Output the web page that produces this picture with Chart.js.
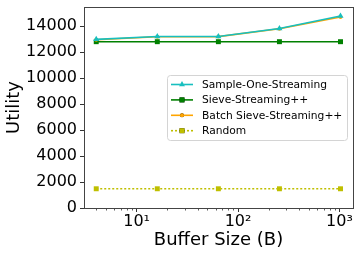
<!DOCTYPE html>
<html>
<head>
<meta charset="utf-8">
<script src="https://cdn.jsdelivr.net/npm/chart.js@4.4.0/dist/chart.umd.min.js"></script>
<style>
  html, body { margin: 0; padding: 0; background: #fff; }
  #wrap { width: 361px; height: 256px; }
</style>
</head>
<body>
<div id="wrap"><canvas id="chart" width="361" height="256"></canvas></div>
<script>
// Values
const bufferSizes = [4, 16, 64, 256, 1024];
const sampleOne = [12980, 13200, 13200, 13820, 14780];
const sieve = [12800, 12800, 12800, 12800, 12800];
const batchSieve = [12950, 13180, 13190, 13790, 14700];
const randomUtil = [1480, 1480, 1480, 1480, 1480];

const yTicks = [0, 2000, 4000, 6000, 8000, 10000, 12000, 14000];
const xMajor = [10, 100, 1000];
const xTicks = [4, 5, 6, 7, 8, 9, 10, 20, 30, 40, 50, 60, 70, 80, 90, 100,
                200, 300, 400, 500, 600, 700, 800, 900, 1000];
const supers = { 10: '10\u00B9', 100: '10\u00B2', 1000: '10\u00B3' };

const series = [
    { label: 'Sample-One-Streaming', data: sampleOne, color: '#17bfbf', marker: 'triangle', radius: 3.5, dash: [] },
    { label: 'Sieve-Streaming++', data: sieve, color: '#008000', marker: 'rect', radius: 3.5, dash: [] },
    { label: 'Batch Sieve-Streaming++', data: batchSieve, color: '#ffa500', marker: 'circle', radius: 2, dash: [] },
    { label: 'Random', data: randomUtil, color: '#bfbf00', marker: 'rect', radius: 3.5, dash: [2, 2] }
];
// lowest order is drawn last, so cyan sits on top of orange
const drawOrder = [0, 2, 1, 3];

const FONT = 'DejaVu Sans';

// frame, minor ticks and the in-plot legend
const extras = {
    id: 'extras',
    afterDraw(chart) {
        const ctx = chart.ctx;
        const a = chart.chartArea;
        const xs = chart.scales.x;
        ctx.save();
        // minor ticks on the log axis
        ctx.strokeStyle = '#333';
        ctx.lineWidth = 0.8;
        xTicks.forEach(v => {
            if (xMajor.includes(v)) return;
            const px = Math.round(xs.getPixelForValue(v)) + 0.5;
            ctx.beginPath();
            ctx.moveTo(px, a.bottom);
            ctx.lineTo(px, a.bottom + 2.5);
            ctx.stroke();
        });
        // frame
        ctx.strokeStyle = '#444';
        ctx.lineWidth = 1;
        ctx.strokeRect(Math.round(a.left) + 0.5, Math.round(a.top) + 0.5,
            Math.round(a.right - a.left), Math.round(a.bottom - a.top));

        // legend
        const bx = 167, by = 75, bw = 180, bh = 65;
        ctx.fillStyle = 'rgba(255,255,255,0.85)';
        ctx.strokeStyle = '#d4d4d4';
        ctx.lineWidth = 1;
        ctx.beginPath();
        ctx.roundRect(bx + 0.5, by + 0.5, bw, bh, 3);
        ctx.fill();
        ctx.stroke();
        ctx.font = '10.7px "' + FONT + '"';
        ctx.textBaseline = 'middle';
        series.forEach((s, i) => {
            const y = by + 9.5 + i * 15.4;
            ctx.strokeStyle = s.color;
            ctx.lineWidth = 1.6;
            ctx.setLineDash(s.dash);
            ctx.beginPath();
            ctx.moveTo(171, y);
            ctx.lineTo(193, y);
            ctx.stroke();
            ctx.setLineDash([]);
            Chart.helpers.drawPoint(ctx, {
                pointStyle: s.marker, radius: s.radius, rotation: 0, borderWidth: 0
            }, 182, y);
            ctx.fillStyle = s.color;
            ctx.fill();
            ctx.fillStyle = '#000';
            ctx.fillText(s.label, 202, y + 0.5);
        });
        ctx.restore();
    }
};

const datasets = drawOrder.map((idx, k) => {
    const s = series[idx];
    return {
        label: s.label,
        data: bufferSizes.map((b, i) => ({ x: b, y: s.data[i] })),
        borderColor: s.color,
        backgroundColor: s.color,
        borderWidth: 1.6,
        borderDash: s.dash,
        pointStyle: s.marker,
        pointRadius: s.radius,
        pointBorderWidth: 0,
        pointBackgroundColor: s.color,
        tension: 0,
        order: k
    };
});

new Chart(document.getElementById('chart'), {
    type: 'line',
    data: { datasets: datasets },
    options: {
        responsive: false,
        devicePixelRatio: 1,
        animation: false,
        layout: { padding: { left: 0, right: 8, top: 7, bottom: 0 } },
        plugins: { legend: { display: false }, tooltip: { enabled: false } },
        scales: {
            x: {
                type: 'logarithmic',
                min: 3.03,
                max: 1360,
                afterBuildTicks: scale => { scale.ticks = xTicks.map(v => ({ value: v })); },
                afterFit: scale => {
                    scale.height = 48;
                    scale.paddingLeft = 0;
                    scale.paddingRight = 0;
                },
                ticks: {
                    autoSkip: false,
                    maxRotation: 0,
                    padding: 0,
                    color: '#000',
                    font: { family: FONT, size: 16 },
                    callback: v => supers[v] || ''
                },
                grid: {
                    drawOnChartArea: false,
                    tickLength: 4,
                    tickColor: c => (c.tick && xMajor.includes(c.tick.value)) ? '#333' : 'rgba(0,0,0,0)'
                },
                border: { display: false },
                title: {
                    display: true,
                    text: 'Buffer Size (B)',
                    color: '#000',
                    font: { family: FONT, size: 18 },
                    padding: { top: 0, bottom: 5 }
                }
            },
            y: {
                type: 'linear',
                min: 0,
                max: 15470,
                afterBuildTicks: scale => { scale.ticks = yTicks.map(v => ({ value: v })); },
                afterFit: scale => {
                    scale.width = 84;
                    scale.paddingTop = 0;
                    scale.paddingBottom = 0;
                },
                ticks: {
                    padding: 3,
                    color: '#000',
                    font: { family: FONT, size: 16 },
                    callback: v => String(v)
                },
                grid: { drawOnChartArea: false, tickLength: 4, tickColor: '#333' },
                border: { display: false },
                title: {
                    display: true,
                    text: 'Utility',
                    color: '#000',
                    font: { family: FONT, size: 18 },
                    padding: { top: 4, bottom: 0 }
                }
            }
        }
    },
    plugins: [extras]
});
</script>
</body>
</html>
